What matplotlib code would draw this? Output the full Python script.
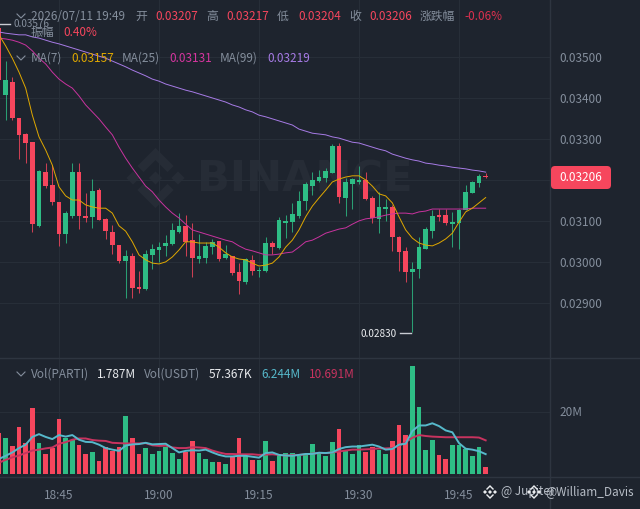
import numpy as np
import matplotlib
matplotlib.use("Agg")
import matplotlib.pyplot as plt
from matplotlib.patches import FancyBboxPatch, Polygon

plt.rcParams['font.family'] = ['Noto Sans CJK SC', 'DejaVu Sans']

# Prices in units of 0.00001 USDT
opens = [3571,3407,3439,3351,3312,3292,3088,3219,3188,3146,3068,3112,3219,3112,3110,3175,3105,3073,3041,3002,3014,2939,2934,3017,3029,3039,3044,3073,3088,3053,3007,3009,3036,3051,3009,3014,2975,2951,3005,2978,2978,3046,3034,3095,3097,3112,3149,3185,3197,3205,3217,3283,3156,3190,3195,3200,3156,3105,3129,3134,3061,3027,2975,2983,3031,3075,3114,3114,3092,3095,3127,3168,3192,3207]
highs = [3576,3490,3451,3351,3314,3292,3224,3241,3236,3146,3124,3241,3241,3168,3202,3180,3107,3090,3041,3029,3022,2978,3029,3044,3049,3066,3095,3119,3114,3095,3068,3049,3056,3051,3041,3014,2997,3009,3017,2988,3061,3051,3110,3114,3144,3173,3195,3219,3224,3229,3288,3290,3205,3205,3234,3219,3161,3171,3153,3139,3063,3036,3000,3061,3085,3127,3129,3129,3122,3129,3188,3197,3214,3217]
lows = [3439,3346,3346,3251,3241,3073,3085,3180,3139,3039,3046,3107,3080,3097,3083,3102,3056,3019,2997,2912,2912,2924,2931,2983,3000,3014,3041,3070,3014,2963,2997,2997,3019,3002,3007,2968,2922,2946,2968,2963,2975,3019,3031,3058,3073,3107,3127,3163,3195,3195,3217,3144,3112,3129,3190,3151,3095,3070,3100,3027,2978,2951,2830,2961,3031,3058,3100,3090,3036,3031,3127,3168,3183,3204]
closes = [3444,3444,3351,3310,3290,3092,3222,3185,3146,3068,3119,3219,3112,3107,3173,3102,3075,3041,3002,3014,2936,2934,3019,3031,3036,3046,3078,3088,3049,3009,3014,3039,3049,3007,3019,2973,2953,3007,2978,2980,3046,3036,3102,3100,3117,3149,3190,3200,3207,3222,3283,3158,3195,3202,3200,3153,3107,3134,3134,3061,3024,2975,2983,3036,3080,3112,3110,3095,3097,3127,3171,3195,3210,3206]

ma7 = [3554,3527,3497,3463,3424,3358,3305,3273,3236,3183,3161,3151,3151,3139,3134,3131,3131,3119,3088,3075,3049,3017,3005,2997,2995,3000,3012,3029,3049,3049,3046,3046,3046,3036,3022,3012,3007,3005,2997,2990,2992,2997,3012,3036,3053,3078,3110,3136,3156,3175,3195,3202,3207,3210,3210,3200,3185,3166,3161,3144,3110,3078,3058,3046,3041,3039,3046,3056,3070,3097,3122,3131,3144,3157]
ma25 = [3546,3544,3541,3536,3529,3515,3497,3483,3463,3446,3434,3424,3405,3383,3366,3349,3329,3310,3280,3253,3229,3207,3185,3171,3151,3134,3119,3107,3092,3078,3073,3068,3063,3058,3053,3049,3039,3031,3027,3022,3017,3017,3019,3022,3024,3036,3049,3053,3061,3070,3075,3080,3083,3092,3100,3105,3107,3110,3114,3117,3119,3119,3117,3122,3124,3129,3129,3129,3129,3129,3129,3131,3131,3131]
ma99 = [3561,3558,3556,3554,3554,3549,3546,3541,3536,3532,3527,3522,3517,3512,3507,3502,3497,3490,3483,3476,3468,3461,3454,3446,3441,3434,3429,3424,3419,3415,3410,3405,3400,3395,3390,3383,3378,3371,3366,3358,3354,3349,3344,3339,3334,3324,3319,3314,3312,3310,3305,3302,3297,3292,3290,3285,3280,3275,3271,3263,3258,3253,3249,3246,3241,3239,3236,3234,3231,3229,3227,3224,3222,3219]

# Volume in millions
volumes = [13.1,11.5,9.0,15.1,9.8,21.0,9.8,6.3,8.2,17.5,11.5,10.9,9.3,6.2,7.0,4.0,8.5,7.4,8.5,18.5,11.5,6.4,8.2,6.3,7.3,8.7,6.7,4.6,6.8,10.6,6.7,4.7,3.8,3.7,3.0,5.5,11.5,5.5,4.4,4.2,10.6,4.0,6.0,6.6,6.6,5.8,6.0,9.6,6.8,5.8,10.3,14.5,7.1,6.4,9.3,6.8,8.5,7.6,6.2,10.4,15.8,12.4,34.8,21.3,7.6,10.9,6.0,4.8,9.3,9.3,7.9,5.6,8.5,2.1]
vol_ma5 = [4.7,5.7,6.8,8.2,9.3,11.8,12.7,11.8,11.1,12.4,11.9,12.4,10.9,10.2,10.1,9.3,8.2,7.7,7.3,9.0,9.4,9.5,9.9,9.4,9.5,9.6,8.2,6.8,7.3,7.5,7.4,7.7,6.8,6.0,5.5,5.5,5.7,5.7,5.4,5.1,6.6,6.8,6.0,5.8,5.7,6.0,6.3,6.3,6.7,6.6,6.8,7.9,8.5,8.7,8.7,9.0,9.3,8.7,7.7,7.9,9.3,9.6,13.7,15.5,15.5,16.2,15.3,13.9,13.3,9.8,8.0,7.7,7.2,6.244]
vol_ma10 = [3.5,4.4,5.2,5.8,6.6,7.4,7.7,8.1,8.4,9.6,10.1,10.9,11.3,11.3,10.8,10.6,10.5,9.9,9.8,9.7,9.7,9.7,9.8,9.1,8.9,9.0,8.4,8.2,8.2,8.5,8.4,8.2,7.4,6.8,6.3,6.3,6.2,6.2,6.2,6.0,6.1,6.2,6.0,5.8,5.9,6.0,6.2,6.4,6.6,6.6,6.8,7.1,7.4,7.7,7.7,7.8,7.9,8.1,8.1,8.2,9.0,10.1,11.5,12.4,12.1,11.9,11.8,11.7,11.7,11.7,11.7,11.7,11.6,10.691]

time_ticks = [9, 24, 39, 54, 69]
time_labels = ['18:45', '19:00', '19:15', '19:30', '19:45']
price_ticks = [2900, 3000, 3100, 3200, 3300, 3400, 3500]
price_labels = ['0.02900', '0.03000', '0.03100', '', '0.03300', '0.03400', '0.03500']
vol_ticks = [20]
vol_labels = ['20M']

BG = '#1E242E'
GRID = '#272E38'
SEP = '#2E3540'
GRAY = '#848E9C'
RED = '#F6465D'
GREEN = '#2EBD85'
DRED = '#D9304E'
W, H = 640, 509

fig = plt.figure(figsize=(W / 100, H / 100), dpi=100, facecolor=BG)

def px_axes(x0, y0, x1, y1, z):
    a = fig.add_axes([x0 / W, 1 - y1 / H, (x1 - x0) / W, (y1 - y0) / H], zorder=z)
    a.patch.set_alpha(0)
    for s in a.spines.values():
        s.set_visible(False)
    return a

def overlay(z):
    a = px_axes(0, 0, W, H, z)
    a.set_xlim(0, W)
    a.set_ylim(H, 0)
    a.axis('off')
    return a

back = overlay(0)
xs = np.arange(len(opens))
PX = 20 / 3
xlim = (1 / PX, 1 / PX + 550 / PX)

# Price panel
ax = px_axes(0, 0, 550, 358, 2)
ax.set_xlim(*xlim)
ax.set_ylim(3639 - 358 * 2.44, 3639)
for i in xs:
    col = GREEN if closes[i] >= opens[i] else RED
    ax.vlines(i, lows[i], highs[i], color=col, lw=0.75, alpha=0.8, zorder=3)
    b, t = min(opens[i], closes[i]), max(opens[i], closes[i])
    ax.bar(i, max(t - b, 2.5), bottom=b, width=0.68, color=col, lw=0, zorder=4)
ax.plot(xs, ma99, color='#A77BE6', lw=0.7, zorder=5)
ax.plot(xs, ma25, color='#C9339F', lw=0.7, zorder=5)
ax.plot(xs, ma7, color='#E0A800', lw=0.7, zorder=5)
ax.set_yticks(price_ticks, price_labels)
ax.yaxis.tick_right()
ax.set_xticks(time_ticks, [''] * 5)
ax.grid(True, color=GRID, lw=0.8, zorder=0)
ax.set_axisbelow(True)
ax.tick_params(axis='both', length=0)
ax.tick_params(axis='y', labelsize=8.5, labelcolor=GRAY, pad=6.5)

# Volume panel
vax = px_axes(0, 358, 550, 476, 2)
vax.set_xlim(*xlim)
vax.set_ylim(-2.5 * 20 / 62, 115.5 * 20 / 62)
vcols = [GREEN if closes[i] >= opens[i] else RED for i in xs]
vax.bar(xs, volumes, width=0.68, color=vcols, lw=0, zorder=3)
vax.plot(xs, vol_ma10, color='#C8335F', lw=1.4, zorder=4)
vax.plot(xs, vol_ma5, color='#56B9CB', lw=1.4, zorder=5)
vax.set_yticks(vol_ticks, vol_labels)
vax.yaxis.tick_right()
vax.set_xticks(time_ticks, time_labels)
vax.grid(True, color=GRID, lw=0.8, zorder=0)
vax.set_axisbelow(True)
vax.tick_params(axis='both', length=0, labelsize=8.5, labelcolor=GRAY)
vax.tick_params(axis='x', pad=9.5)
vax.tick_params(axis='y', pad=6.5)

# Watermark
WM = '#262C36'
back.text(197, 179, 'BINANCE', color=WM, fontsize=31, fontweight='bold',
          family='DejaVu Sans', va='center', ha='left')
cx, cy = 155.5, 178
def poly(pts, col=WM, a=back, z=1):
    a.add_patch(Polygon([(cx + p[0], cy + p[1]) for p in pts], closed=True, fc=col, ec='none', zorder=z))
poly([(-6.5, 0), (0, -6.5), (6.5, 0), (0, 6.5)])
poly([(-29, 0), (-22.5, -6.5), (-16, 0), (-22.5, 6.5)])
poly([(29, 0), (22.5, -6.5), (16, 0), (22.5, 6.5)])
poly([(0, -30), (18, -12), (12, -6), (0, -18), (-12, -6), (-18, -12)])
poly([(0, 30), (18, 12), (12, 6), (0, 18), (-12, 6), (-18, 12)])

# Foreground texts
fg = overlay(6)
fg.axvline(550, color=SEP, lw=1)
fg.axhline(358, color=SEP, lw=1)
fg.axhline(476.5, color=SEP, lw=1)

def t(x, y, s, c=GRAY, size=8.5):
    fg.text(x, y, s, color=c, fontsize=size, va='center', ha='left')

def chev(y):
    fg.plot([17, 21, 25], [y - 2, y + 2, y - 2], color=GRAY, lw=0.8)

chev(16); chev(58); chev(374)
for x, s, c in [(31, '2026/07/11 19:49', GRAY), (135, '开', GRAY), (155, '0.03207', RED),
                (206, '高', GRAY), (226, '0.03217', RED), (277, '低', GRAY), (298, '0.03204', RED),
                (349, '收', GRAY), (369, '0.03206', RED), (420, '涨跌幅', GRAY), (464, '-0.06%', DRED)]:
    t(x, 16, s, c)
t(31, 32, '振幅'); t(63, 32, '0.40%', RED)
for x, s, c in [(31, 'MA(7)', GRAY), (71, '0.03157', '#E0A800'), (122, 'MA(25)', GRAY),
                (169, '0.03131', '#D6359F'), (220, 'MA(99)', GRAY), (267, '0.03219', '#A77BE6')]:
    t(x, 58, s, c)
for x, s, c in [(31, 'Vol(PARTI)', GRAY), (97, '1.787M', '#EAECEF'), (144, 'Vol(USDT)', GRAY),
                (209, '57.367K', '#EAECEF'), (261, '6.244M', '#56B9CB'), (309, '10.691M', '#C8335F')]:
    t(x, 374, s, c)

# Extremes
fg.plot([0, 10], [24, 24], color='#C8CCD2', lw=1)
t(14, 24, '0.03576', GRAY, 7.2)
fg.plot([400, 411], [333, 333], color='#C8CCD2', lw=1)
fg.text(397, 334, '0.02830', color='#EAECEF', fontsize=7.2, va='center', ha='right')

# Current price tag
fg.add_patch(FancyBboxPatch((554, 169), 54, 17, boxstyle='round,pad=3,rounding_size=4',
                            fc=RED, ec='none', zorder=7))
fg.text(581, 177.5, '0.03206', color='#FFFFFF', fontsize=8.5, va='center', ha='center', zorder=8)

# Footer attribution
for cx_, label, tx in [(490, '@ Jupiter', 501), (534, '@William_Davis', 545)]:
    cx, cy = cx_, 492
    poly([(-2, 0), (0, -2), (2, 0), (0, 2)], '#EAECEF', fg, 9)
    poly([(-7, 0), (-5, -2), (-3, 0), (-5, 2)], '#EAECEF', fg, 9)
    poly([(7, 0), (5, -2), (3, 0), (5, 2)], '#EAECEF', fg, 9)
    poly([(0, -7), (4, -3), (3, -2), (0, -5), (-3, -2), (-4, -3)], '#EAECEF', fg, 9)
    poly([(0, 7), (4, 3), (3, 2), (0, 5), (-3, 2), (-4, 3)], '#EAECEF', fg, 9)
    fg.text(tx, 492, label, color='#B7BDC6', fontsize=8.5, va='center', ha='left', zorder=9)

fig.savefig('out.png', dpi=100, facecolor=BG)
